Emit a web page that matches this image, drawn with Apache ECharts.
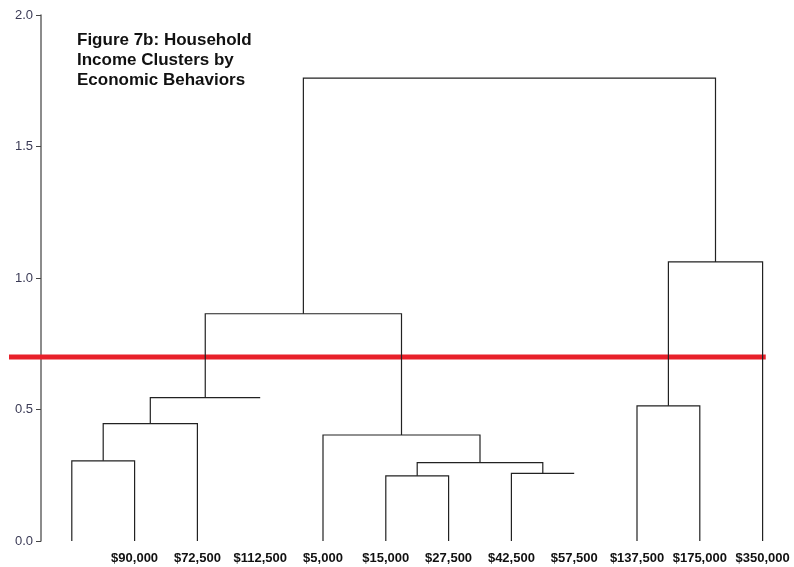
<!DOCTYPE html>
<html>
<head>
<meta charset="utf-8">
<script src="https://cdn.jsdelivr.net/npm/echarts@6/dist/echarts.min.js"></script>
<style>
  html, body { margin: 0; padding: 0; background: #fff; }
  #chart { width: 794px; height: 567px; }
</style>
</head>
<body>
<div id="chart"></div>
<script>
// leaf labels, one per slot 1..12 (slot 1 has no label)
const leafLabels = ['', '$90,000', '$72,500', '$112,500', '$5,000', '$15,000', '$27,500',
  '$42,500', '$57,500', '$137,500', '$175,000', '$350,000']

// merges: left x, left base height, right x, right base height, merge height (x in slot units)
const mergeLeftX = [1, 1.5, 2.25, 6, 8, 6.5, 5, 3.125, 10, 10.5, 4.6875]
const mergeLeftBase = [0, 0.305, 0.446, 0, 0, 0.248, 0, 0.545, 0, 0.514, 0.864]
const mergeRightX = [2, 3, 4, 7, 9, 8.5, 7.5, 6.25, 11, 12, 11.25]
const mergeRightBase = [0, 0, 0.545, 0, 0.257, 0.257, 0.298, 0.403, 0, 0, 1.061]
const mergeHeight = [0.305, 0.446, 0.545, 0.248, 0.257, 0.298, 0.403, 0.864, 0.514, 1.061, 1.76]

// cut line
const cutHeight = 0.7
const cutFrom = 0
const cutTo = 12.05

const yTicks = [0, 0.5, 1, 1.5, 2]

const chart = echarts.init(document.getElementById('chart'), null, { renderer: 'canvas' })

const mergeData = mergeLeftX.map((x, i) => [x, mergeLeftBase[i], mergeRightX[i], mergeRightBase[i], mergeHeight[i]])

chart.setOption({
  animation: false,
  backgroundColor: '#ffffff',
  title: {
    text: 'Figure 7b: Household\nIncome Clusters by\nEconomic Behaviors',
    left: 77,
    top: 30,
    padding: 0,
    textStyle: {
      fontFamily: 'Liberation Sans',
      fontSize: 17,
      fontWeight: 'bold',
      color: '#111',
      lineHeight: 20
    }
  },
  grid: {
    left: 9,
    right: 0,
    top: 15,
    bottom: 26,
    containLabel: false
  },
  xAxis: {
    type: 'value',
    min: 0,
    max: 12.5,
    interval: 1,
    splitLine: { show: false },
    axisLine: { show: false },
    axisTick: { show: false },
    axisLabel: {
      showMaxLabel: false,
      showMinLabel: false,
      margin: 11,
      fontFamily: 'Liberation Sans',
      fontSize: 13,
      fontWeight: 'bold',
      color: '#111',
      formatter: v => (Number.isInteger(v) && v >= 1 ? leafLabels[v - 1] || '' : '')
    }
  },
  yAxis: {
    type: 'value',
    min: yTicks[0],
    max: yTicks[yTicks.length - 1],
    interval: 0.5,
    offset: -32,
    splitLine: { show: false },
    axisLine: { show: true, onZero: false, lineStyle: { color: '#666', width: 1.5 } },
    axisTick: { show: true, length: 5, lineStyle: { color: '#444', width: 1 } },
    axisLabel: {
      margin: 8,
      fontFamily: 'Liberation Sans',
      fontSize: 13,
      color: '#3a3a55',
      formatter: v => v.toFixed(1)
    }
  },
  series: [{
    // red cut line
    type: 'line',
    symbol: 'none',
    z: 2,
    lineStyle: { color: '#e8202a', width: 5 },
    data: [[cutFrom, cutHeight], [cutTo, cutHeight]]
  }, {
    // dendrogram links
    type: 'custom',
    z: 3,
    encode: { x: [0, 2], y: [1, 3, 4] },
    data: mergeData,
    renderItem: (params, api) => {
      const p1 = api.coord([api.value(0), api.value(1)])
      const p2 = api.coord([api.value(0), api.value(4)])
      const p3 = api.coord([api.value(2), api.value(4)])
      const p4 = api.coord([api.value(2), api.value(3)])
      return {
        type: 'polyline',
        shape: { points: [p1, p2, p3, p4] },
        style: { stroke: '#222', lineWidth: 1.2, fill: null }
      }
    }
  }]
})
</script>
</body>
</html>
